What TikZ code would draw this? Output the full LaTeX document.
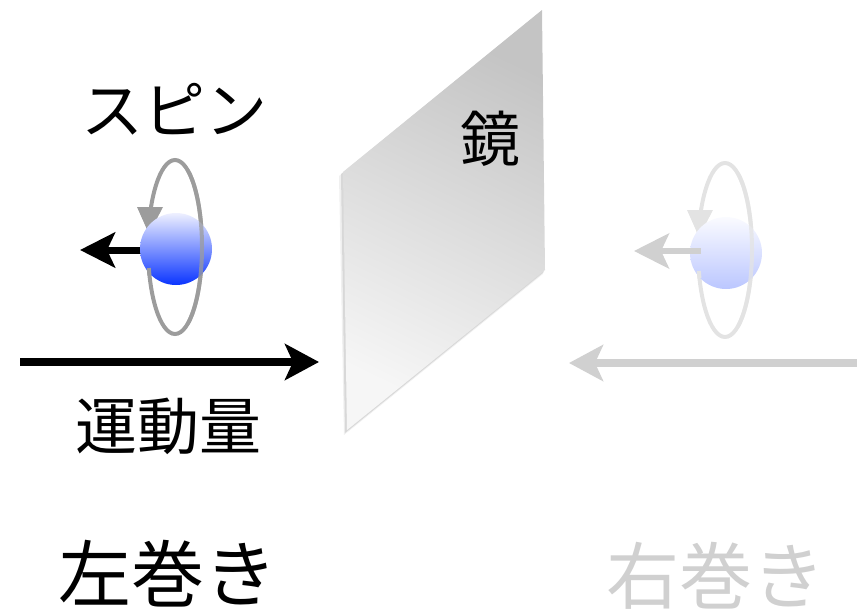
\documentclass[tikz,border=0pt]{standalone}
\usepackage{fontspec}
\newfontfamily\jp{Noto Sans CJK JP}
\usetikzlibrary{arrows.meta}
\definecolor{ringgray}{HTML}{9C9C9C}
\definecolor{ballblue}{HTML}{0A34FF}
\definecolor{ballmid}{HTML}{7C92FF}
\definecolor{balltop}{HTML}{EEF0FF}
\definecolor{ghost}{HTML}{D0D0D0}
\tikzset{
  label/.style={inner sep=0pt, font=\jp\fontsize{62}{62}\selectfont},
  mirrorlabel/.style={inner sep=0pt, font=\jp\fontsize{60}{60}\selectfont},
  biglabel/.style={inner sep=0pt, font=\jp\fontsize{73}{73}\selectfont},
  ring/.style={draw=ringgray, line width=4pt},
  ball/.style={circle, minimum size=72pt, inner sep=0pt,
    top color=balltop, middle color=ballmid, bottom color=ballblue},
  spinarrow/.style={line width=7pt,
    -{Stealth[length=35pt, width=35pt, inset=8pt]}},
  momarrow/.style={line width=8pt,
    -{Stealth[length=34pt, width=36pt, inset=8pt]}},
}
\begin{document}
\begin{tikzpicture}[x=1pt,y=-1pt]
\useasboundingbox (0,0) rectangle (857,613);

% mirror: soft shadow, then the shaded pane
\fill[black, opacity=0.06] (339,176) -- (539,13) -- (543,274) -- (344,435) -- cycle;
\fill[black, opacity=0.10] (341,174) -- (540,12) -- (544,272) -- (345,433) -- cycle;
\shade[top color={rgb,255:red,196;green,196;blue,196},
       bottom color={rgb,255:red,246;green,246;blue,246},
       shading angle=-26]
  (343,172) -- (542,10) -- (545,270) -- (347,430) -- cycle;
\node[mirrorlabel] (mirror) at (490,139) {鏡};

% left-handed particle
\node[label] (spin) at (174,109) {スピン};
\draw[ring] (175,247) ellipse [x radius=27, y radius=87];
\fill[ringgray] (137,207) -- (163,207) -- (149,234) -- cycle;
\coordinate (lspin) at (80,250);
\draw[spinarrow] (176,250) coordinate (lstart) -- (lspin);
\node[ball] (lball) at (176,249) {};
\draw[ringgray, line width=4pt, opacity=0.75]
  (175,247) ++(-62:27 and 87) arc[start angle=-62, end angle=62, x radius=27, y radius=87];
\draw[ringgray, line width=4pt]
  (175,247) ++(166:27 and 87) arc[start angle=166, end angle=161, x radius=27, y radius=87];

\coordinate (lmomA) at (20,362);
\coordinate (lmomB) at (319,362);
\draw[momarrow] (lmomA) -- (lmomB);
\node[label] (mom) at (168,426) {運動量};
\node[biglabel] (left) at (168,574) {左巻き};

% mirrored particle, faded
\begin{scope}[transparency group, opacity=0.28]
  \draw[ring] (725,250) ellipse [x radius=27, y radius=87];
  \fill[ringgray] (687,210) -- (713,210) -- (699,237) -- cycle;
  \node[ball] (rball) at (726,253) {};
  \draw[ringgray, line width=4pt, opacity=0.75]
    (725,250) ++(-62:27 and 87) arc[start angle=-62, end angle=62, x radius=27, y radius=87];
  \draw[ringgray, line width=4pt]
    (725,250) ++(166:27 and 87) arc[start angle=166, end angle=161, x radius=27, y radius=87];
\end{scope}
\coordinate (rspin) at (634,251);
\draw[spinarrow, ghost, line width=6pt] (701,251) coordinate (rstart) -- (rspin);
\coordinate (rmomA) at (857,363);
\coordinate (rmomB) at (569,363);
\draw[momarrow, ghost] (rmomA) -- (rmomB);
\node[biglabel, text=ghost] (right) at (716,576) {右巻き};
\end{tikzpicture}
\end{document}
